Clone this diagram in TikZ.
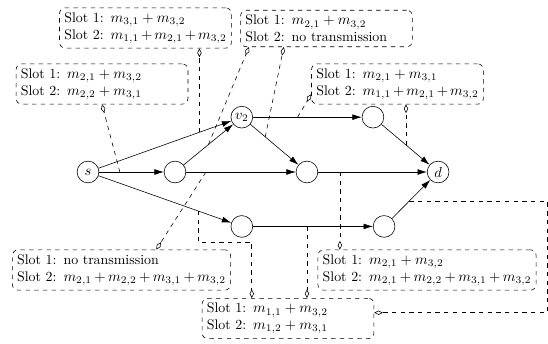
\documentclass[tikz,border=0pt]{standalone}
\usetikzlibrary{arrows.meta}
\begin{document}
\begin{tikzpicture}[vertex/.style={circle,draw,minimum size=15pt,inner sep=0pt},
  slots/.style={draw,dashed,rounded corners=4pt,align=left,inner sep=3.3pt,text width=112pt,
    font=\fontsize{9.6pt}{11.6pt}\selectfont},
  wideslots/.style={slots,text width=144pt},
  link/.style={-{Latex[length=6.5pt,width=4pt]}},
  tag/.style={dashed,-{Diamond[open,length=6pt,width=3pt]}}]
\useasboundingbox (-2.134,-4.147) rectangle (11.155,4.171);
% network
\node[vertex] (s) at (0,0) {$s$};\node[vertex] (a) at (2.11,0) {};\node[vertex] (v2) at (3.73,1.33) {$v_2$};
\node[vertex] (b) at (5.31,0) {};\node[vertex] (c) at (6.91,1.33) {};\node[vertex] (d) at (8.49,0) {$d$};
\node[vertex] (e) at (3.73,-1.32) {};\node[vertex] (f) at (7.18,-1.32) {};
\draw[link] (s) -- coordinate[pos=.32] (sa) (a);
\draw[link] (s) -- coordinate[pos=.76] (sv) (v2);
\draw[link] (s) -- coordinate[pos=.75] (se) (e);
\draw[link] (a) -- coordinate[pos=.5] (av) (v2);
\draw[link] (a) -- coordinate[pos=.18] (ab) (b);
\draw[link] (v2) -- coordinate[pos=.31] (vb) (b);
\draw[link] (v2) -- coordinate[pos=.41] (vc) (c);
\draw[link] (c) -- coordinate[pos=.51] (cd) (d);
\draw[link] (b) -- coordinate[pos=.2] (bd) (d);
\draw[link] (e) -- coordinate[pos=.45] (ef) (f);
\draw[link] (f) -- coordinate[pos=.45] (fd) (d);
% schedules
\node[slots] (A) at (1.394,3.492) {Slot 1: $m_{3,1}+m_{3,2}$\\Slot 2: $m_{1,1}+m_{2,1}+m_{3,2}$};
\node[slots] (B) at (5.784,3.480) {Slot 1: $m_{2,1}+m_{3,2}$\\Slot 2: no transmission};
\node[slots] (C) at (0.340,2.134) {Slot 1: $m_{2,1}+m_{3,2}$\\Slot 2: $m_{2,2}+m_{3,1}$};
\node[slots] (D) at (7.505,2.134) {Slot 1: $m_{2,1}+m_{3,1}$\\Slot 2: $m_{1,1}+m_{2,1}+m_{3,2}$};
\node[wideslots] (E) at (0.812,-2.377) {Slot 1: no transmission\\Slot 2: $m_{2,1}+m_{2,2}+m_{3,1}+m_{3,2}$};
\node[wideslots] (F) at (8.221,-2.377) {Slot 1: $m_{2,1}+m_{3,2}$\\Slot 2: $m_{2,1}+m_{2,2}+m_{3,1}+m_{3,2}$};
\node[slots] (G) at (4.85,-3.553) {Slot 1: $m_{1,1}+m_{3,2}$\\Slot 2: $m_{1,2}+m_{3,1}$};
\draw[tag] (sa) -- (C.south);
\draw[tag] (sv) -- (sv |- A.south);
\draw[tag] (av) -- ([xshift=6pt]B.south west);
\draw[tag] (vb) -- ([xshift=30pt]B.south west);
\draw[tag] (vc) -- ([yshift=-7pt]D.west);
\draw[tag] (cd) -- (cd |- D.south);
\draw[tag] (ab) -- ([xshift=24pt]E.north);
\draw[tag] (bd) -- (bd |- F.north);
\draw[tag] (ef) -- (ef |- G.north);
\draw[tag] (se) -- ++(0,-.75) -| ([xshift=-25pt]G.north);
\coordinate (rim) at (11.13,0);
\draw[tag] (fd) -- (fd -| rim) |- ([yshift=4pt]G.east);
\end{tikzpicture}
\end{document}
